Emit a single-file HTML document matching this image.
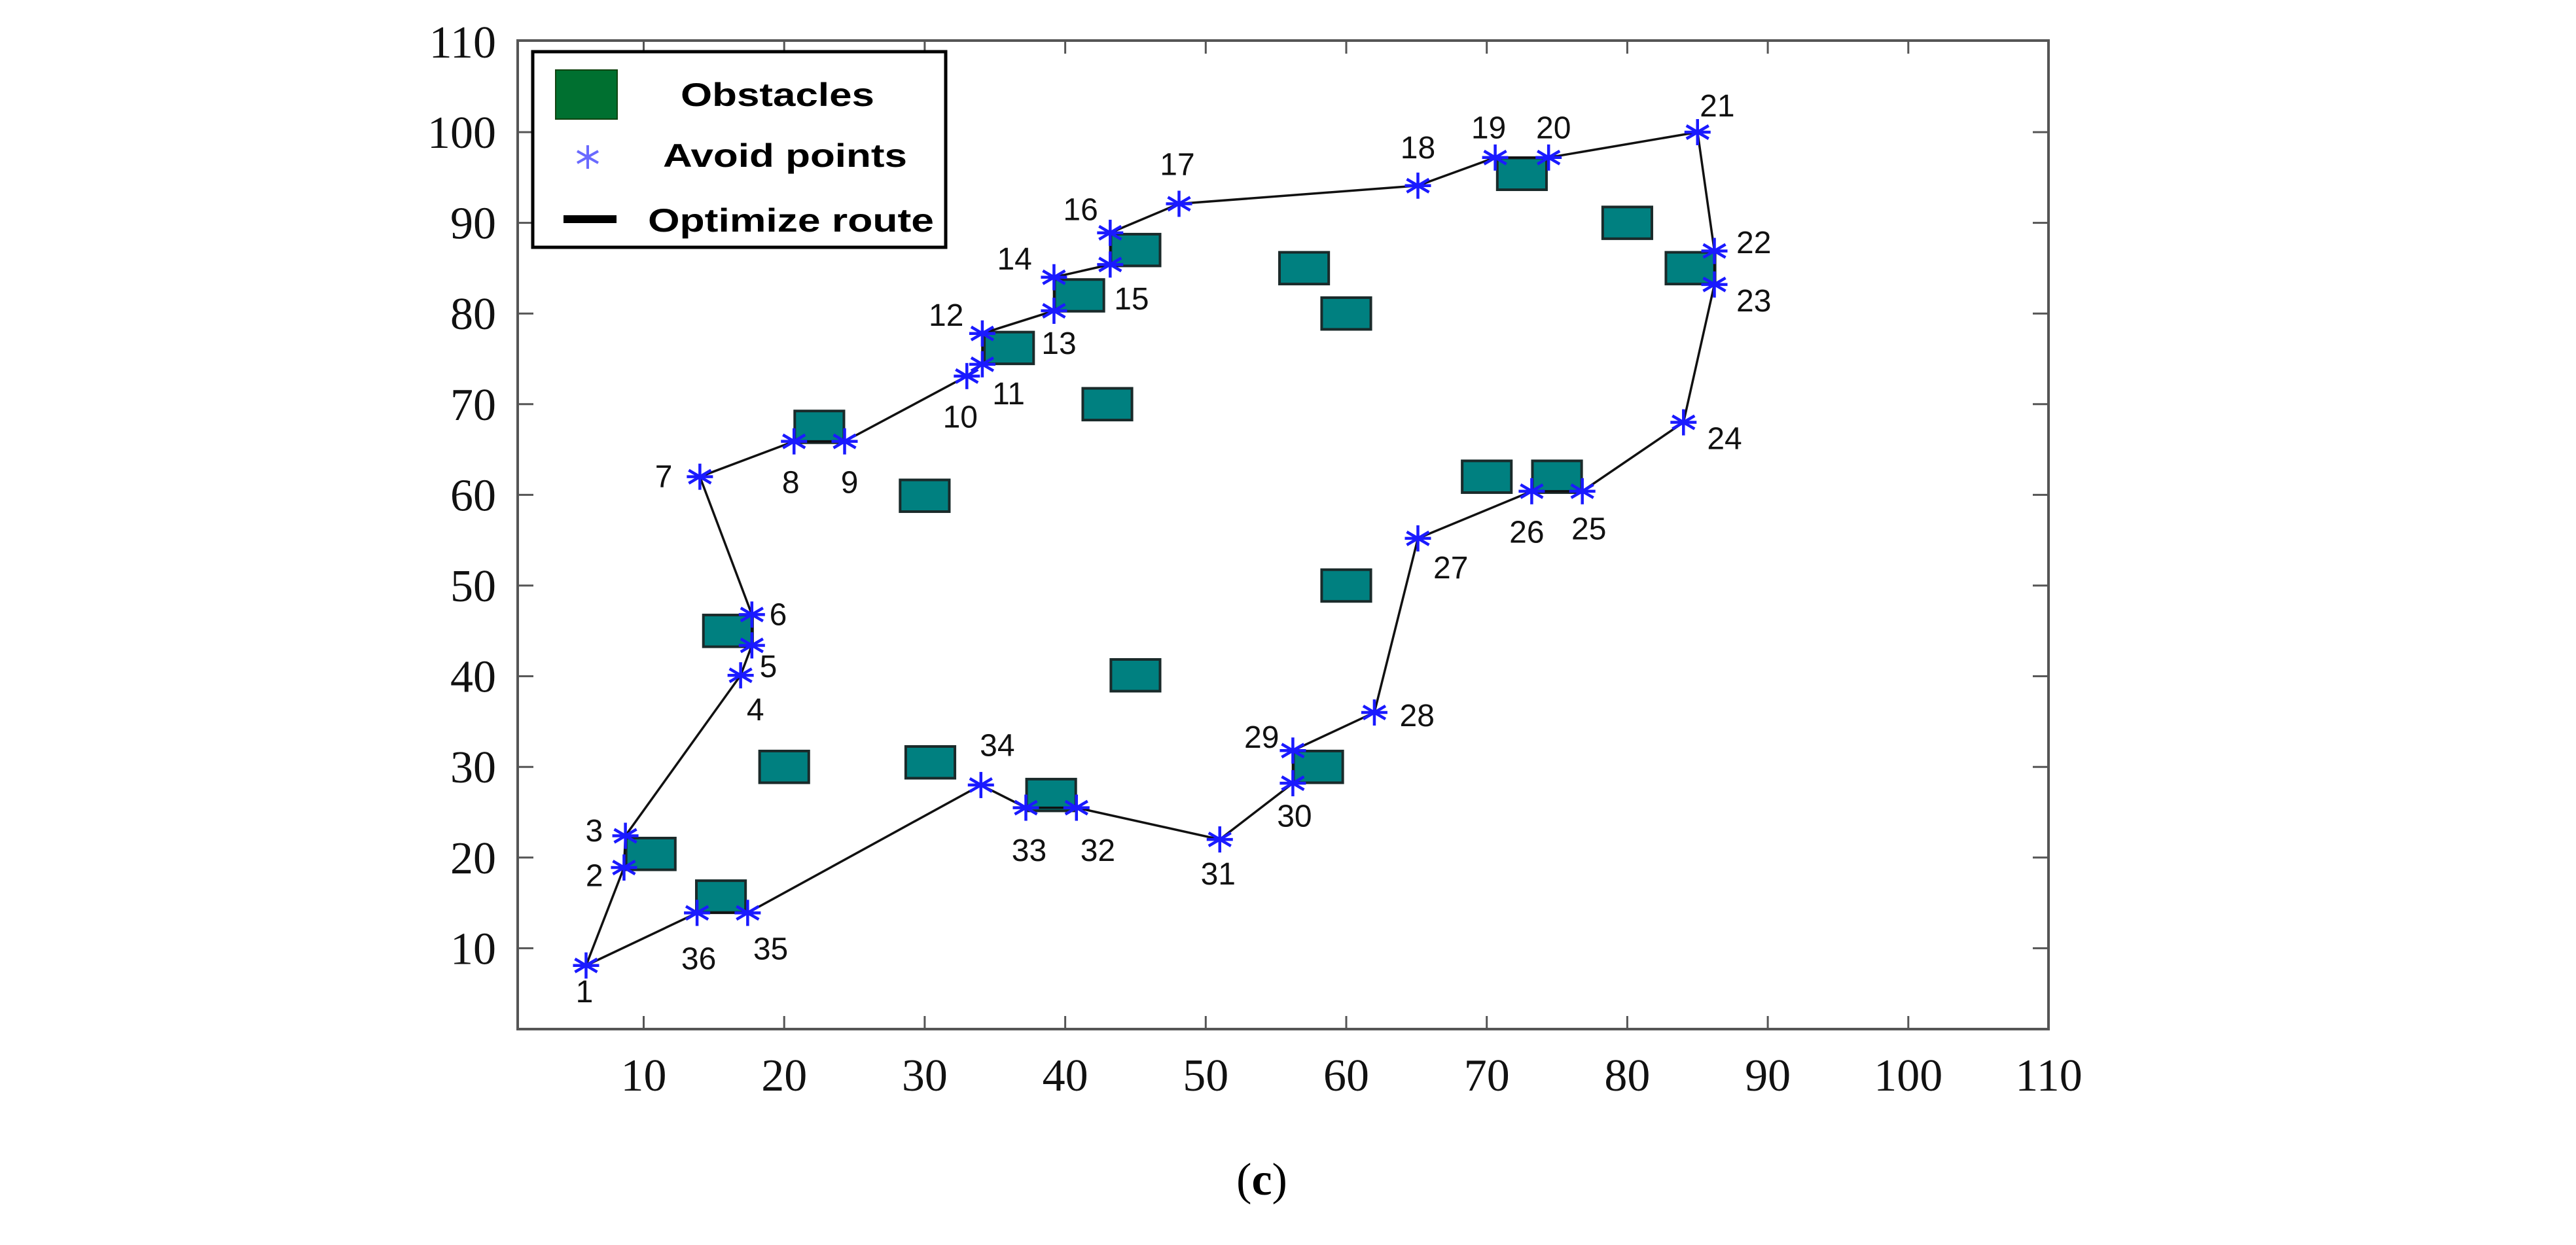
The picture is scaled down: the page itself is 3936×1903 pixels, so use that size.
<!DOCTYPE html>
<html><head><meta charset="utf-8"><style>
html,body{margin:0;padding:0;background:#fff;}
svg{display:block;}
</style></head><body>
<svg id="chart" xmlns="http://www.w3.org/2000/svg" width="3936" height="1903" viewBox="0 0 3936 1903">
<rect x="0" y="0" width="3936" height="1903" fill="#fff"/>
<g id="obst"></g>
<g id="route"></g>
<g id="pts"></g>
<g id="lbls"></g>
<g id="axes"></g>
<g>
  <rect x="814" y="79" width="631" height="299" fill="#fff" stroke="#000" stroke-width="5"/>
  <rect x="849" y="107" width="94" height="75" fill="#007030" stroke="#114411" stroke-width="2"/>
  <text x="1040" y="162" font-family="Liberation Sans, sans-serif" font-weight="bold" font-size="50" textLength="296" lengthAdjust="spacingAndGlyphs">Obstacles</text>
  <g stroke="#6a6aff" stroke-width="4">
    <line x1="898" y1="222" x2="898" y2="258"/><line x1="882" y1="231" x2="914" y2="249"/><line x1="882" y1="249" x2="914" y2="231"/>
  </g>
  <text x="1013" y="255" font-family="Liberation Sans, sans-serif" font-weight="bold" font-size="50" textLength="373" lengthAdjust="spacingAndGlyphs">Avoid points</text>
  <line x1="861" y1="335" x2="942" y2="335" stroke="#000" stroke-width="12"/>
  <text x="990" y="354" font-family="Liberation Sans, sans-serif" font-weight="bold" font-size="50" textLength="437" lengthAdjust="spacingAndGlyphs">Optimize route</text>
</g>
<text x="1928" y="1826" text-anchor="middle" font-family="Liberation Serif, serif" font-size="70">(<tspan font-weight="bold">c</tspan>)</text>
</svg>
<script>
const obstacleX=[10.5,15.5,16.0,20.0,22.5,30.0,30.4,36.0,39.0,41.0,43.0,45.0,45.0,57.0,60.0,60.0,58.0,70.0,75.0,72.5,80.0,84.5];
const obstacleY=[20.4,15.7,45.0,30.0,67.5,59.9,30.5,76.2,26.9,82.0,70.0,40.1,87.0,85.0,80.0,50.0,30.0,62.0,62.0,95.4,90.0,85.0];
const pointX=[5.9,8.6,8.7,16.9,17.7,17.7,14.0,20.7,24.3,33.0,34.1,34.1,39.2,39.2,43.2,43.2,48.1,65.1,70.6,74.4,85.0,86.2,86.2,84.0,76.8,73.2,65.1,62.0,56.2,56.2,51.0,40.8,37.2,34.0,17.4,13.8];
const pointY=[8.1,18.9,22.4,40.1,43.4,46.8,62.0,65.9,65.9,73.1,74.4,77.8,80.3,84.0,85.4,88.9,92.1,94.1,97.2,97.2,100,86.9,83.2,68.0,60.4,60.4,55.2,36.0,31.8,28.2,22.0,25.5,25.5,28.0,13.9,13.9];
const pointLabels=['1','2','3','4','5','6','7','8','9','10','11','12','13','14','15','16','17','18','19','20','21','22','23','24','25','26','27','28','29','30','31','32','33','34','35','36'];
const xTicks=[10,20,30,40,50,60,70,80,90,100,110];
const yTicks=[10,20,30,40,50,60,70,80,90,100,110];
const labelDX=[-1,-18,-19,9,10,16,-22,-2,3,-4,16,-22,3,-24,13,-18,-1,0,-4,3,12,24,24,25,4,-3,20,26,-19,1,-1,13,2,10,14,1];
const labelDY=[16,5,-3,21,13,0,0,25,25,25,18,-11,20,-11,21,-14,-24,-23,-18,-18,-16,-5,10,10,23,25,18,2,-8,20,21,26,26,-24,22,28];
const NS='http://www.w3.org/2000/svg';
const L=791,R=3130,T=62,B=1573;
function sx(v){return 983.5+(v-10)*21.47;}
function sy(v){return 202+(100-v)*13.86;}
function mk(tag,attrs,parent){const e=document.createElementNS(NS,tag);for(const k in attrs)e.setAttribute(k,attrs[k]);parent.appendChild(e);return e;}
const gO=document.getElementById('obst'),gR=document.getElementById('route'),gP=document.getElementById('pts'),gL=document.getElementById('lbls'),gA=document.getElementById('axes');
const OW=3.5,OH=3.5;
obstacleX.forEach((x,i)=>{
  const r=mk('rect',{x:sx(x-OW/2),y:sy(obstacleY[i]+OH/2),width:sx(x+OW/2)-sx(x-OW/2),height:sy(obstacleY[i]-OH/2)-sy(obstacleY[i]+OH/2),fill:'#008080',stroke:'#1a2a2a','stroke-width':4},gO);
  
  
});
let d='';
pointX.forEach((x,i)=>{d+=(i?'L':'M')+sx(x)+' '+sy(pointY[i])+' ';});
d+='Z';
const p=mk('path',{d:d,fill:'none',stroke:'#111','stroke-width':3.5},gR);


pointX.forEach((x,i)=>{
  const cx=sx(x),cy=sy(pointY[i]);
  const g=mk('g',{stroke:'#1a1aff','stroke-width':4.5},gP);
  
  
  mk('line',{x1:cx,y1:cy-20,x2:cx,y2:cy+20},g);
  mk('line',{x1:cx-17,y1:cy-10,x2:cx+17,y2:cy+10},g);
  mk('line',{x1:cx-17,y1:cy+10,x2:cx+17,y2:cy-10},g);
  mk('line',{x1:cx-20,y1:cy,x2:cx+20,y2:cy},g);
  const t=mk('text',{x:cx+labelDX[i]*2.51,y:cy+labelDY[i]*2.51+16,'text-anchor':'middle','font-family':'Liberation Sans, sans-serif','font-size':48,fill:'#111'},gL);
  t.textContent=pointLabels[i];
  
  
});
const frame=mk('rect',{x:L,y:T,width:R-L,height:B-T,fill:'none',stroke:'#555','stroke-width':4},gA);


xTicks.forEach(v=>{
  const x=sx(v);
  if(v<110){
    mk('line',{x1:x,y1:B,x2:x,y2:B-20,stroke:'#555','stroke-width':3},gA);
    mk('line',{x1:x,y1:T,x2:x,y2:T+20,stroke:'#555','stroke-width':3},gA);
  }
  const t=mk('text',{x:x,y:1667,'text-anchor':'middle','font-family':'Liberation Serif, serif','font-size':70,fill:'#111'},gA);
  t.textContent=v;
  
  
});
yTicks.forEach(v=>{
  const y=sy(v);
  if(v<110){
    mk('line',{x1:L,y1:y,x2:L+24,y2:y,stroke:'#555','stroke-width':3},gA);
    mk('line',{x1:R,y1:y,x2:R-24,y2:y,stroke:'#555','stroke-width':3},gA);
  }
  const t=mk('text',{x:758,y:(v===110?64:y)+24,'text-anchor':'end','font-family':'Liberation Serif, serif','font-size':70,fill:'#111'},gA);
  t.textContent=v;
  
  
});
</script>
</body></html>
